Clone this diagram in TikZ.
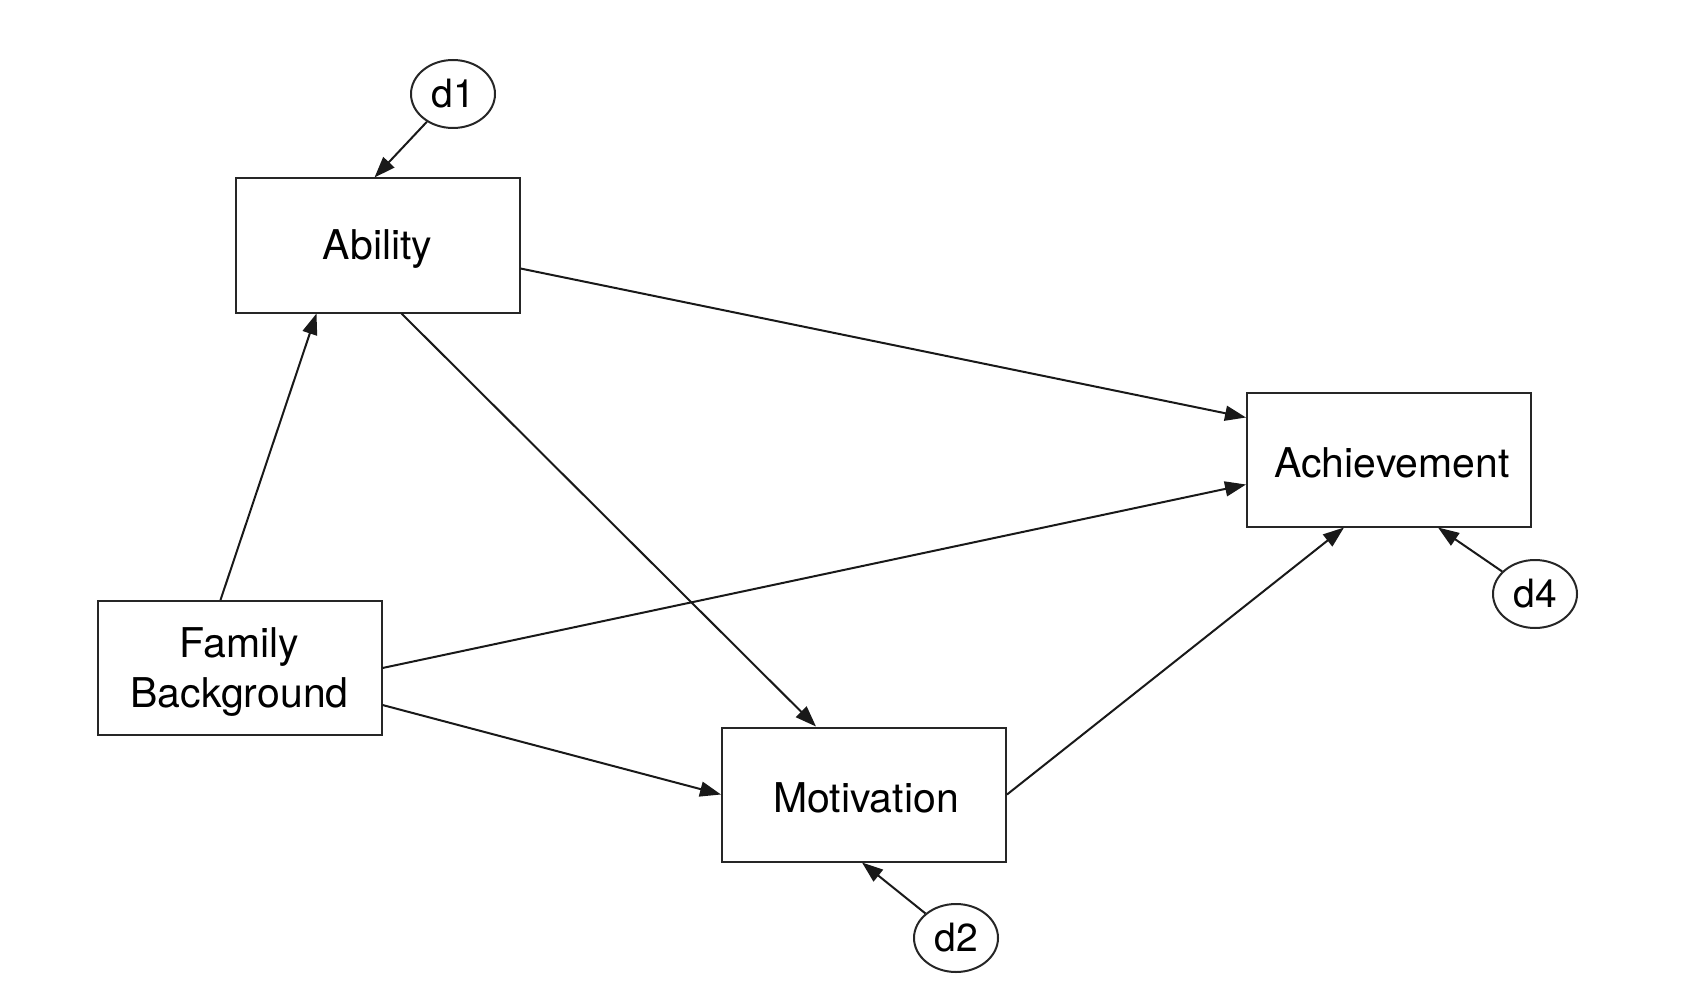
\documentclass[tikz,border=0pt]{standalone}
\usepackage{fontspec}
\setmainfont{TeX Gyre Heros}
\usetikzlibrary{arrows.meta,shapes.geometric}
\begin{document}
\begin{tikzpicture}[x=1pt,y=-1pt,
  var/.style={draw=black!85,line width=2pt,rectangle,minimum width=284pt,minimum height=134pt,inner sep=0pt},
  lab/.style={inner sep=0pt,align=center,font=\fontsize{41}{50}\selectfont},
  err/.style={draw=black!85,line width=2pt,ellipse,minimum width=84pt,minimum height=68pt,inner sep=0pt,font=\fontsize{39}{44}\selectfont},
  path/.style={line width=2pt,draw=black!90,-{Triangle[length=21pt,width=15pt]}}]
\useasboundingbox (0,0) rectangle (1688,992);
\node[var] (Ab) at (377.5,245.5) {};
\node[var] (Ach) at (1389,459.5) {};
\node[var] (FB) at (239.5,668) {};
\node[var] (Mot) at (864,794.5) {};
\node[lab] (Abt) at ([yshift=-4pt]Ab.center) {Ability};
\node[lab] (Acht) at ([xshift=3pt,yshift=-3pt]Ach.center) {Achievement};
\node[lab] (FBt) at ([yshift=-4pt]FB.center) {Family\\Background};
\node[lab] (Mott) at ([xshift=2pt,yshift=-3pt]Mot.center) {Motivation};
\node[err] (d1) at (453,94) {d1};
\node[err] (d4) at (1535,594) {d4};
\node[err] (d2) at (956,938) {d2};
\draw[path] (d1) -- ([xshift=-3pt]Ab.north);
\draw[path] ([xshift=-19pt]FB.north) -- ([xshift=-61pt]Ab.south);
\draw[path] ([yshift=-23pt]Ab.east) -- ([yshift=42pt]Ach.west);
\draw[path] (FB.east) -- ([yshift=-25pt]Ach.west);
\draw[path] ([yshift=-37pt]FB.east) -- (Mot.west);
\draw[path] ([xshift=24pt]Ab.south) -- ([xshift=-48pt]Mot.north);
\draw[path] (Mot.east) -- ([xshift=-45pt]Ach.south);
\draw[path] (d4) -- ([xshift=49pt]Ach.south);
\draw[path] (d2) -- ([xshift=-2pt]Mot.south);
\end{tikzpicture}
\end{document}
